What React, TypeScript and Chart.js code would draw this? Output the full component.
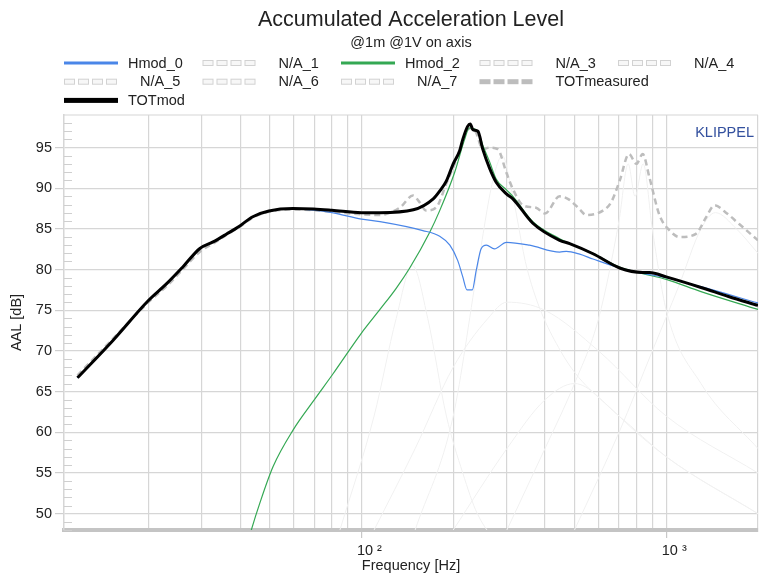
import React, { useEffect, useRef } from 'react';
import { Chart, registerables } from 'chart.js';

Chart.register(...registerables);

const FONT = '"Liberation Sans", Arial, Helvetica, sans-serif';

// ---- data (frequency in Hz, level in dB) ----
const hmod0Freq = [11.7, 15.3, 20, 23, 25.9, 29.5, 32.6, 36.2, 40, 44, 49.7, 59.5, 69.7, 80, 100, 115, 159, 180.6, 195, 207, 215, 222, 231, 238, 247, 257, 273, 299, 356, 447, 470, 520, 575, 703, 837, 1000, 1300, 2000];
const hmod0Level = [66.7, 71.3, 76.2, 78.3, 80.3, 82.6, 83.4, 84.4, 85.4, 86.5, 87.2, 87.45, 87.3, 87.0, 86.2, 85.9, 84.8, 84.1, 83.0, 81.1, 79.1, 77.5, 77.5, 79.9, 82.55, 83.0, 82.55, 83.35, 83.0, 82.15, 82.25, 81.9, 81.3, 80.2, 79.55, 79.0, 77.9, 75.9];

const hmod2Freq = [40, 43.6, 46.4, 51.3, 59.7, 69.4, 80.7, 100, 115, 130, 144, 167.5, 180.6, 202, 218, 226, 241, 250, 263, 277, 299, 314, 365, 447, 575, 703, 837, 1000, 1300, 2000];
const hmod2Level = [43, 48.1, 51.3, 55.8, 60.3, 63.8, 67.2, 72.2, 75.1, 77.7, 80.2, 84.6, 87.25, 91.9, 96.0, 97.4, 97.0, 95.3, 93.3, 91.1, 89.8, 89.0, 85.9, 83.8, 82.0, 80.3, 79.5, 78.8, 77.3, 75.1];

const totMeasFreq = [11.7, 15.3, 20, 23, 25.9, 29.5, 32.6, 36.2, 40, 44, 49.7, 59.5, 69.7, 80, 100, 115, 121, 134, 147.6, 155, 163, 176, 190, 210, 223, 232, 238, 250, 263, 280, 299, 314, 339, 374, 400, 447, 480, 520, 546, 620, 660, 703, 755, 798, 837, 881, 950, 1026, 1106, 1252, 1350, 1440, 1570, 1735, 2000];
const totMeasLevel = [67.0, 71.5, 76.0, 78.0, 80.0, 82.2, 83.2, 84.3, 85.3, 86.4, 87.1, 87.4, 87.3, 87.1, 86.8, 86.7, 86.85, 87.65, 89.1, 88.3, 87.25, 87.65, 90.6, 94.5, 97.2, 97.4, 96.8, 94.8, 95.0, 94.8, 91.9, 89.9, 87.9, 87.6, 86.9, 89.0, 88.6, 87.4, 86.7, 87.25, 88.3, 90.9, 94.2, 93.0, 94.2, 91.3, 86.7, 84.8, 84.0, 84.4, 86.4, 87.9, 87.0, 85.6, 83.6];

const totModFreq = [11.7, 15.3, 20, 23, 25.9, 29.5, 32.6, 36.2, 40, 44, 49.7, 59.5, 69.7, 80, 100, 115, 148, 172, 181, 190, 200, 210, 215, 223, 227.5, 232, 241, 250, 263, 277, 299, 314, 365, 447, 482, 575, 703, 837, 881, 1000, 1300, 1600, 2000];
const totModLevel = [66.7, 71.3, 76.2, 78.3, 80.3, 82.6, 83.4, 84.4, 85.4, 86.5, 87.2, 87.5, 87.45, 87.3, 87.0, 87.0, 87.35, 88.7, 89.7, 90.9, 93.0, 94.6, 96.0, 97.6, 97.9, 97.2, 97.0, 94.8, 92.5, 90.7, 89.3, 88.7, 85.7, 83.6, 83.2, 81.95, 80.2, 79.65, 79.65, 79.1, 77.8, 76.7, 75.6];

// faint harmonic components (barely visible in the reference)
const na1Freq = [85, 110, 130, 147, 165, 190, 215, 240, 300];
const na1Level = [48, 62, 74, 80.5, 74, 62, 55, 50, 45];
const na3Freq = [150, 200, 240, 270, 290, 310, 350, 450, 700, 1000, 2000];
const na3Level = [48, 62, 80, 91, 94, 90, 80, 70, 62, 57, 50];
const na4Freq = [110, 150, 200, 260, 300, 400, 600, 1000, 2000];
const na4Level = [48, 58, 68, 74, 76, 75, 70, 62, 55];
const na5Freq = [300, 400, 500, 600, 700, 750, 790, 840, 900, 1000, 1300, 2000];
const na5Level = [48, 58, 66, 74, 86, 93, 89, 93, 85, 75, 66, 58];
const na6Freq = [200, 300, 400, 500, 700, 1000, 2000];
const na6Level = [48, 58, 64, 66, 62, 57, 50];
const na7Freq = [500, 700, 900, 1100, 1300, 1450, 1700, 2000];
const na7Level = [48, 60, 70, 78, 85, 87, 85, 82];

const xGridTicks = [20, 30, 40, 50, 60, 70, 80, 90, 100, 200, 300, 400, 500, 600, 700, 800, 900, 1000, 2000];
const xTickLabels: Record<number, string> = { 100: '10 ²', 1000: '10 ³' };
const yTicks = [50, 55, 60, 65, 70, 75, 80, 85, 90, 95];

const BLUE = '#4a86e8';
const GREEN = '#34a853';
const FAINT = '#f1f1f1';
const MEAS = '#bdbdbd';

const pts = (f: number[], v: number[]) => f.map((x, i) => ({ x, y: v[i] }));

type Kind = 'solid' | 'na' | 'measured';

const decorPlugin = {
  id: 'decor',
  beforeDatasetsDraw(chart: any) {
    const { ctx, chartArea: a, scales } = chart;
    const y = scales.y;
    ctx.save();
    ctx.strokeStyle = '#d6d6d6';
    ctx.lineWidth = 1.2;
    ctx.beginPath();
    ctx.moveTo(a.left, a.top);
    ctx.lineTo(a.right, a.top);
    ctx.stroke();
    ctx.strokeStyle = '#cfcfcf';
    ctx.lineWidth = 1;
    for (let v = Math.ceil(y.min); v < y.max; v++) {
      if (v % 5 === 0) continue;
      const py = Math.round(y.getPixelForValue(v)) + 0.5;
      ctx.beginPath();
      ctx.moveTo(a.left, py);
      ctx.lineTo(a.left + 8, py);
      ctx.stroke();
    }
    ctx.restore();
  },
  afterDraw(chart: any) {
    const { ctx, chartArea: a } = chart;
    ctx.save();
    // brand
    ctx.font = `14.5px ${FONT}`;
    ctx.fillStyle = '#33509e';
    ctx.textAlign = 'right';
    ctx.textBaseline = 'middle';
    ctx.fillText('KLIPPEL', a.right - 4, a.top + 18);

    // legend
    ctx.textAlign = 'left';
    ctx.font = `14.5px ${FONT}`;
    const colW = 138.5;
    const startX = 64;
    const rowY0 = 63;
    const rowH = 18.7;
    const boxW = 54;
    let row = 0;
    let col = 0;
    chart.data.datasets.forEach((ds: any) => {
      const kind: Kind = ds.legendKind;
      const label: string = ds.label;
      const tw = ctx.measureText(label).width;
      const off = kind === 'solid' ? 64 : 76;
      const span = Math.ceil((off + tw + 8) / colW);
      if (col + span > 5) {
        row++;
        col = 0;
      }
      const x = startX + col * colW;
      const yc = rowY0 + row * rowH;
      if (kind === 'solid') {
        ctx.fillStyle = ds.borderColor;
        const h = ds.legendThickness;
        ctx.fillRect(x, yc - h / 2, boxW, h);
      } else {
        for (let i = 0; i < 4; i++) {
          const bx = x + i * 14;
          if (kind === 'measured') {
            ctx.fillStyle = MEAS;
            ctx.fillRect(bx, yc - 2.5, 11, 5);
          } else {
            ctx.fillStyle = '#f7f7f7';
            ctx.fillRect(bx + 0.5, yc - 2.5, 10, 5);
            ctx.strokeStyle = '#d2d2d2';
            ctx.lineWidth = 1;
            ctx.strokeRect(bx + 0.5, yc - 2.5, 10, 5);
          }
        }
      }
      ctx.fillStyle = '#222';
      ctx.fillText(label, x + off, yc + 0.5);
      col += span;
    });
    ctx.restore();
  },
};

export default function App() {
  const ref = useRef<HTMLCanvasElement | null>(null);

  useEffect(() => {
    if (!ref.current) return;
    const faint = (label: string, f: number[], v: number[]) => ({
      label,
      data: pts(f, v),
      borderColor: FAINT,
      borderWidth: 1,
      legendKind: 'na',
      order: 10,
    });
    const chart = new Chart(ref.current, {
      type: 'line',
      data: {
        datasets: [
          { label: 'Hmod_0', data: pts(hmod0Freq, hmod0Level), borderColor: BLUE, borderWidth: 1.2, legendKind: 'solid', legendThickness: 3, order: 2 } as any,
          faint('N/A_1', na1Freq, na1Level),
          { label: 'Hmod_2', data: pts(hmod2Freq, hmod2Level), borderColor: GREEN, borderWidth: 1.2, legendKind: 'solid', legendThickness: 3, order: 3 } as any,
          faint('N/A_3', na3Freq, na3Level),
          faint('N/A_4', na4Freq, na4Level),
          faint('N/A_5', na5Freq, na5Level),
          faint('N/A_6', na6Freq, na6Level),
          faint('N/A_7', na7Freq, na7Level),
          { label: 'TOTmeasured', data: pts(totMeasFreq, totMeasLevel), borderColor: MEAS, borderWidth: 2.5, borderDash: [6, 4], legendKind: 'measured', order: 4 } as any,
          { label: 'TOTmod', data: pts(totModFreq, totModLevel), borderColor: '#000', borderWidth: 3, legendKind: 'solid', legendThickness: 5, order: 1 } as any,
        ],
      },
      options: {
        animation: false,
        responsive: false,
        maintainAspectRatio: false,
        layout: { padding: { left: 0, right: 7, top: 0, bottom: 0 } },
        elements: {
          point: { radius: 0, hoverRadius: 0 },
          line: { cubicInterpolationMode: 'monotone', fill: false },
        },
        plugins: {
          legend: { display: false },
          tooltip: { enabled: false },
          title: {
            display: true,
            text: 'Accumulated Acceleration Level',
            fullSize: false,
            color: '#222',
            font: { family: FONT, size: 21.5, weight: 'normal' },
            padding: { top: 7, bottom: 1 },
          },
          subtitle: {
            display: true,
            text: '@1m @1V on axis',
            fullSize: false,
            color: '#222',
            font: { family: FONT, size: 14.5 },
            padding: { top: 0, bottom: 63.8 },
          },
        },
        scales: {
          x: {
            type: 'logarithmic',
            min: 10.57,
            max: 2000,
            afterBuildTicks: (axis: any) => {
              axis.ticks = xGridTicks.map((v) => ({ value: v }));
            },
            afterFit: (s: any) => {
              s.height = 45;
            },
            ticks: {
              autoSkip: false,
              maxRotation: 0,
              minRotation: 0,
              padding: 4,
              labelOffset: 8,
              color: '#222',
              font: { family: FONT, size: 14.5 },
              callback: (value: any) => xTickLabels[Number(value)] ?? '',
            },
            grid: {
              color: '#d6d6d6',
              lineWidth: 1.2,
              tickLength: 8,
              tickColor: (c: any) => (c.tick && xTickLabels[c.tick.value] ? '#c8c8c8' : 'rgba(0,0,0,0)'),
            },
            border: { color: '#c4c4c4', width: 4 },
            title: {
              display: true,
              text: 'Frequency [Hz]',
              color: '#222',
              font: { family: FONT, size: 14.5 },
              padding: { top: 0, bottom: 0 },
            },
          },
          y: {
            type: 'linear',
            min: 48,
            max: 99,
            afterBuildTicks: (axis: any) => {
              axis.ticks = yTicks.map((v) => ({ value: v }));
            },
            afterFit: (s: any) => {
              s.width = 64;
            },
            ticks: {
              padding: 3,
              color: '#222',
              font: { family: FONT, size: 14.5 },
            },
            grid: {
              color: '#d6d6d6',
              lineWidth: 1.2,
              tickLength: 9,
              tickColor: '#cfcfcf',
            },
            border: { color: '#d6d6d6', width: 1.5 },
            title: {
              display: true,
              text: 'AAL [dB]',
              color: '#222',
              font: { family: FONT, size: 14.5 },
              padding: { top: 8.3, bottom: 0 },
            },
          },
        },
      } as any,
      plugins: [decorPlugin],
    });
    return () => chart.destroy();
  }, []);

  return (
    <div style={{ position: 'absolute', left: 0, top: 0, width: 765, height: 575, background: '#fff' }}>
      <canvas ref={ref} width={765} height={575} style={{ display: 'block' }} />
    </div>
  );
}
